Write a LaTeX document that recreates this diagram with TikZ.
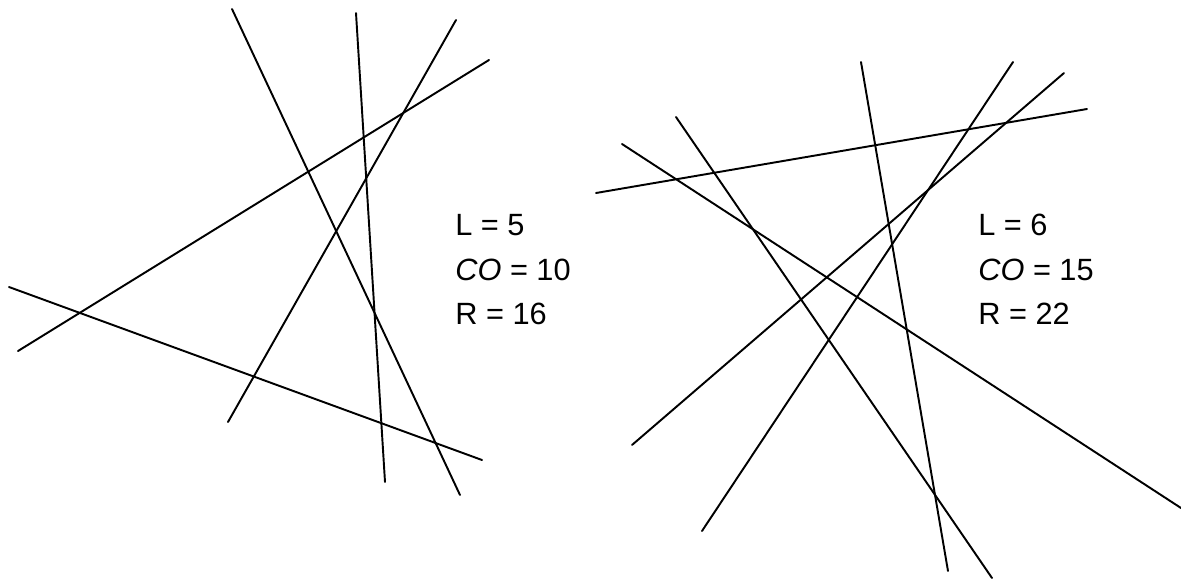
\documentclass[tikz,border=0pt]{standalone}
\usepackage{fontspec}
\setmainfont{Liberation Sans}
\usepackage{tikz}
\usetikzlibrary{positioning}

\begin{document}
\begin{tikzpicture}[x=0.02cm, y=-0.02cm,
      every node/.style={font=\fontsize{17.5}{20}\selectfont, inner sep=0pt},
      cut/.style={line width=1.1pt, line cap=round},
      count/.style={anchor=base west}
  ]
    \useasboundingbox (0,0) rectangle (1181,579);
    % five lines
    \draw[cut] (232,9) -- (460,495);
    \draw[cut] (356,13) -- (385,482);
    \draw[cut] (456,20) -- (228,422);
    \draw[cut] (489,60) -- (18,351);
    \draw[cut] (9,287) -- (482,460);
    \node[count] (lA) at (455,235) {L = 5};
    \node[count] (coA) at (455,280) {\textit{CO} = 10};
    \node[count] (rA) at (455,324) {R = 16};
    % six lines
    \draw[cut] (861,62) -- (948,571);
    \draw[cut] (1013,62) -- (702,531);
    \draw[cut] (1064,73) -- (632,445);
    \draw[cut] (1087,109) -- (596,193);
    \draw[cut] (676,117) -- (992,578);
    \draw[cut] (622,144) -- (1181,508);
    \node[count] (lB) at (978,235) {L = 6};
    \node[count] (coB) at (978,280) {\textit{CO} = 15};
    \node[count] (rB) at (978,324) {R = 22};
  \end{tikzpicture}
\end{document}
